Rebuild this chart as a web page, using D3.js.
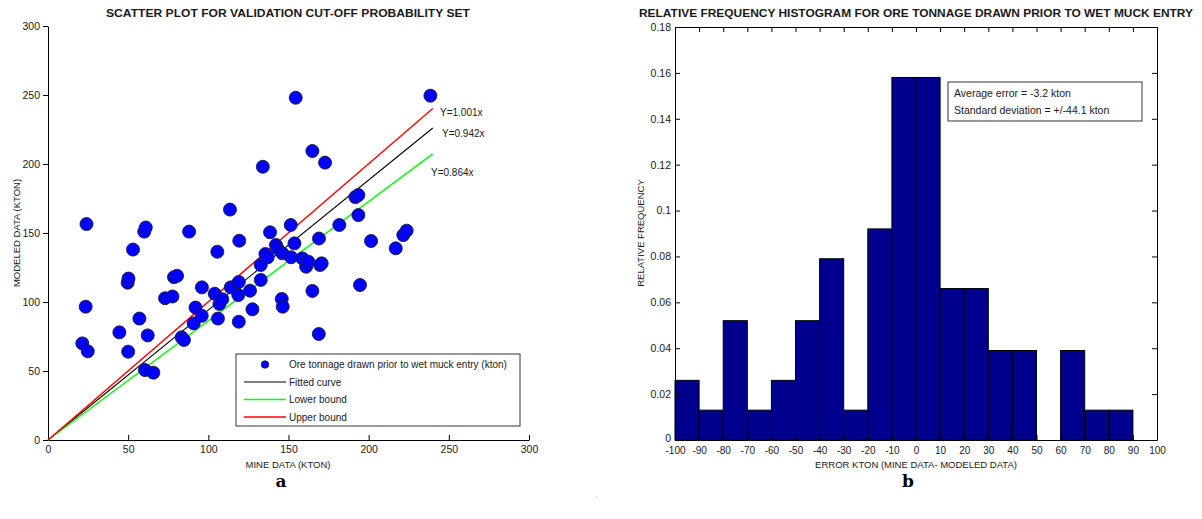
<!DOCTYPE html>
<html>
<head>
<meta charset="utf-8">
<script src="https://cdn.jsdelivr.net/npm/d3@7"></script>
<style>
  body { margin: 0; background: #fff; }
  svg text { font-family: "Liberation Sans", Arial, sans-serif; fill: #1a1a1a; }
</style>
</head>
<body>
<div id="chart"></div>
<script>
// scatter data: mine data (kton) vs modeled data (kton)
const mineData = [21.4, 24.8, 23.5, 24.0, 44.5, 50.0, 49.7, 50.2, 53.0, 57.0, 60.0, 61.0, 62.2, 60.5, 65.7,
  73.0, 77.6, 78.6, 80.5, 83.4, 84.8, 88.0, 90.9, 92.0, 95.9, 96.0, 104.0, 105.6, 106.0, 106.9, 108.7,
  113.5, 114.0, 118.7, 119.0, 119.0, 119.3, 126.0, 127.5, 132.7, 132.7, 134.0, 135.6, 137.0, 138.5,
  142.2, 143.0, 146.2, 145.8, 146.4, 151.4, 151.6, 153.7, 154.5, 158.6, 161.0, 162.4, 164.9, 164.9,
  169.0, 168.9, 169.7, 170.7, 172.8, 181.7, 191.7, 193.6, 193.6, 194.6, 201.5, 216.9, 221.6, 223.7, 238.5];
const modeledData = [70, 64.3, 96.6, 156.5, 78, 64, 114, 117, 138, 88, 151, 154, 75.8, 50.7, 48.8,
  102.7, 104, 118, 119, 74.4, 72.5, 151, 84.5, 96, 90, 110.6, 106, 136.4, 88, 98.6, 102,
  167, 110.6, 105, 85.7, 114.5, 144.4, 108.2, 94.7, 116, 126.8, 198, 134.8, 132.4, 150.5,
  141.3, 139, 135.3, 102.2, 96.6, 155.8, 132.4, 142.5, 248, 131.6, 125.6, 129.2, 108, 209.4,
  146, 76.8, 126.8, 128, 201, 155.8, 176, 177.5, 163, 112.3, 144.2, 138.9, 148.5, 151.7, 249.5];

// fitted lines y = k x
const lineNames = ["Fitted curve", "Lower bound", "Upper bound"];
const lineSlopes = [0.942, 0.864, 1.001];
const lineLabels = ["Y=0.942x", "Y=0.864x", "Y=1.001x"];
const lineColors = ["#000000", "#00ff00", "#ff0000"];
const lineXmax = 240;

const scatterTicks = [0, 50, 100, 150, 200, 250, 300];

// histogram of error (kton)
const binStarts = [-100, -90, -80, -70, -60, -50, -40, -30, -20, -10, 0, 10, 20, 30, 40, 50, 60, 70, 80];
const relFreq = [0.026, 0.013, 0.052, 0.013, 0.026, 0.052, 0.079, 0.013, 0.092, 0.158, 0.158,
  0.066, 0.066, 0.039, 0.039, 0, 0.039, 0.013, 0.013];
const histXTicks = d3.range(-100, 101, 10);
const histYTicks = [0, 0.02, 0.04, 0.06, 0.08, 0.1, 0.12, 0.14, 0.16, 0.18];
const statLines = ["Average error = -3.2 kton", "Standard deviation = +/-44.1 kton"];

const W = 1202, H = 519;
const svg = d3.select("#chart").append("svg")
  .attr("width", W).attr("height", H);

// ---------- left: scatter ----------
let x = d3.scaleLinear().domain([0, 300]).range([48, 529]);
let y = d3.scaleLinear().domain([0, 300]).range([440, 26]);

svg.append("g")
  .attr("transform", "translate(0,440)")
  .call(d3.axisBottom(x).tickValues(scatterTicks).tickSizeInner(-5).tickSizeOuter(0).tickPadding(6))
  .call(g => g.selectAll("text").style("font-size", "10.5px"));
svg.append("g")
  .attr("transform", "translate(48,0)")
  .call(d3.axisLeft(y).tickValues(scatterTicks).tickSizeInner(5).tickSizeOuter(0).tickPadding(3))
  .call(g => g.selectAll("text").style("font-size", "10.5px"));

// lines
lineSlopes.forEach(function(k, i) {
  svg.append("line")
    .attr("x1", x(0)).attr("y1", y(0))
    .attr("x2", x(lineXmax)).attr("y2", y(k * lineXmax))
    .attr("stroke", lineColors[i])
    .attr("stroke-width", i == 0 ? 1.1 : 1.4);
});
// line labels
const labelPos = [[442, 133], [431, 172], [440, 112]];
lineLabels.forEach(function(t, i) {
  svg.append("text")
    .attr("x", labelPos[i][0]).attr("y", labelPos[i][1])
    .attr("dy", "0.35em")
    .style("font-size", "10px")
    .text(t);
});

// points
svg.append("g").selectAll("circle")
  .data(mineData)
  .enter()
  .append("circle")
  .attr("cx", function(d) { return x(d); })
  .attr("cy", function(d, i) { return y(modeledData[i]); })
  .attr("r", 6.5)
  .attr("fill", "#0000ff")
  .attr("stroke", "#1c1c3a")
  .attr("stroke-width", 0.9);

// legend
const leg = svg.append("g").attr("transform", "translate(236,354)");
leg.append("rect")
  .attr("width", 284).attr("height", 72)
  .attr("fill", "#fff").attr("stroke", "#333").attr("stroke-width", 1);
leg.append("circle").attr("cx", 29).attr("cy", 10.5).attr("r", 3.8).attr("fill", "#0000ff").attr("stroke", "#111").attr("stroke-width", 0.6);
leg.append("text").attr("x", 53).attr("y", 10.5).attr("dy", "0.35em").style("font-size", "10px")
  .text("Ore tonnage drawn prior to wet muck entry (kton)");
lineNames.forEach(function(n, i) {
  let ly = 28 + i * 17.5;
  leg.append("line").attr("x1", 8).attr("x2", 50).attr("y1", ly).attr("y2", ly)
    .attr("stroke", lineColors[i]).attr("stroke-width", i == 0 ? 1.1 : 1.6);
  leg.append("text").attr("x", 53).attr("y", ly).attr("dy", "0.35em").style("font-size", "10px").text(n);
});

// titles
svg.append("text")
  .attr("x", 288).attr("y", 17)
  .style("text-anchor", "middle").style("font-size", "10.5px").style("font-weight", "bold")
  .attr("textLength", 364).attr("lengthAdjust", "spacingAndGlyphs")
  .text("SCATTER PLOT FOR VALIDATION CUT-OFF PROBABILITY SET");
svg.append("text")
  .attr("x", 288).attr("y", 468)
  .style("text-anchor", "middle").style("font-size", "9.5px")
  .text("MINE DATA (KTON)");
svg.append("text")
  .attr("transform", "translate(20,233) rotate(-90)")
  .style("text-anchor", "middle").style("font-size", "9.5px")
  .text("MODELED DATA (KTON)");

// ---------- right: histogram ----------
let xh = d3.scaleLinear().domain([-100, 100]).range([675, 1157]);
let yh = d3.scaleLinear().domain([0, 0.18]).range([440, 27]);
const fmt = function(d) { return String(+d.toFixed(2)); };

svg.append("g").selectAll("rect")
  .data(relFreq)
  .enter()
  .append("rect")
  .attr("x", function(d, i) { return xh(binStarts[i]); })
  .attr("y", function(d) { return yh(d); })
  .attr("width", function(d, i) { return xh(binStarts[i] + 10) - xh(binStarts[i]); })
  .attr("height", function(d) { return yh(0) - yh(d); })
  .attr("fill", "#00008f")
  .attr("stroke", "#000")
  .attr("stroke-width", 1);

svg.append("g")
  .attr("transform", "translate(0,440)")
  .call(d3.axisBottom(xh).tickValues(histXTicks).tickSizeInner(-5).tickSizeOuter(0).tickPadding(7)
    .tickFormat(function(d) { return String(d); }))
  .call(g => g.selectAll("text").style("font-size", "10px"));
svg.append("g")
  .attr("transform", "translate(0,27)")
  .call(d3.axisTop(xh).tickValues(histXTicks).tickSizeInner(-5).tickSizeOuter(0).tickFormat(""));
svg.append("g")
  .attr("transform", "translate(675,0)")
  .call(d3.axisLeft(yh).tickValues(histYTicks).tickSizeInner(-5).tickSizeOuter(0).tickPadding(4).tickFormat(fmt))
  .call(g => g.selectAll("text").style("font-size", "10.5px"))
  .call(g => g.selectAll(".tick text").filter(d => d === 0).attr("dy", "0.1em"));
svg.append("g")
  .attr("transform", "translate(1157,0)")
  .call(d3.axisRight(yh).tickValues(histYTicks).tickSizeInner(-5).tickSizeOuter(0).tickFormat(""));

// stats box
const box = svg.append("g").attr("transform", "translate(948,82)");
box.append("rect").attr("width", 194).attr("height", 39)
  .attr("fill", "#fff").attr("stroke", "#333");
statLines.forEach(function(t, i) {
  box.append("text").attr("x", 6).attr("y", 11 + i * 17.5).attr("dy", "0.35em")
    .style("font-size", "10.5px").text(t);
});

svg.append("text")
  .attr("x", 916).attr("y", 17)
  .style("text-anchor", "middle").style("font-size", "10.5px").style("font-weight", "bold")
  .attr("textLength", 554).attr("lengthAdjust", "spacingAndGlyphs")
  .text("RELATIVE FREQUENCY HISTOGRAM FOR ORE TONNAGE DRAWN PRIOR TO WET MUCK ENTRY");
svg.append("text")
  .attr("x", 916).attr("y", 468)
  .style("text-anchor", "middle").style("font-size", "9.5px")
  .text("ERROR KTON (MINE DATA- MODELED DATA)");
svg.append("text")
  .attr("transform", "translate(644,233) rotate(-90)")
  .style("text-anchor", "middle").style("font-size", "9.5px")
  .text("RELATIVE FREQUENCY");

// panel letters
svg.append("text").attr("x", 281).attr("y", 487)
  .style("text-anchor", "middle").style("font-family", "'DejaVu Serif', serif")
  .style("font-weight", "bold").style("font-size", "17px").style("fill", "#000").text("a");
svg.append("text").attr("x", 908).attr("y", 487)
  .style("text-anchor", "middle").style("font-family", "'DejaVu Serif', serif")
  .style("font-weight", "bold").style("font-size", "17px").style("fill", "#000").text("b");
svg.append("circle").attr("cx", 597).attr("cy", 497).attr("r", 0.6).attr("fill", "#888");
</script>
</body>
</html>
